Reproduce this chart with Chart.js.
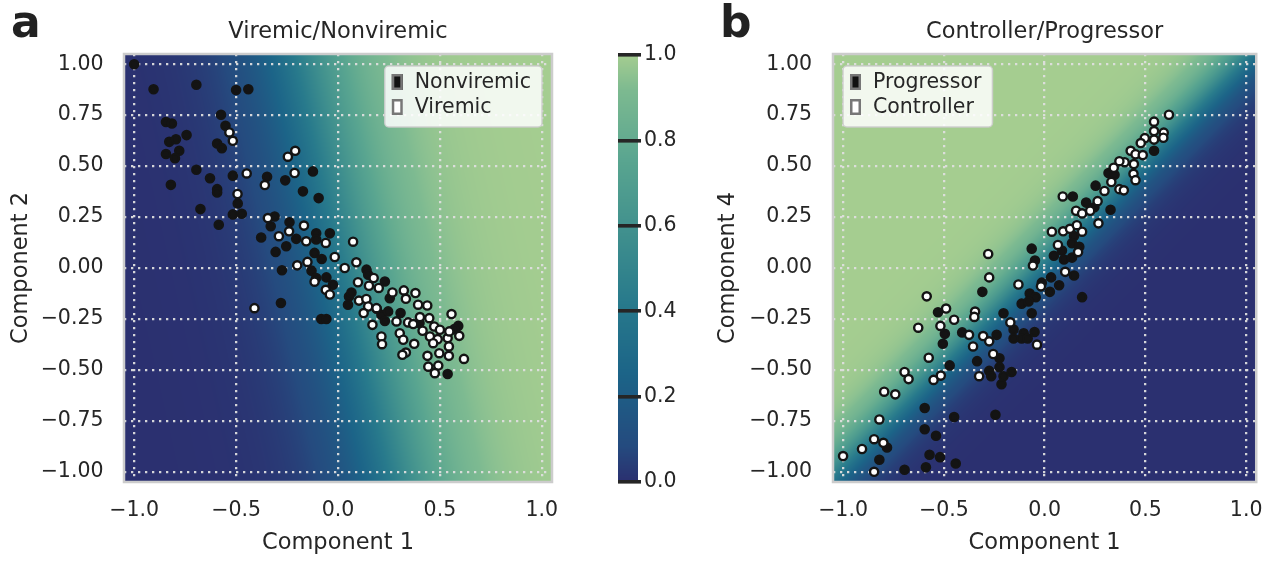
<!DOCTYPE html>
<html><head><meta charset="utf-8">
<script src="https://cdn.jsdelivr.net/npm/chart.js@4.4.1/dist/chart.umd.min.js"></script>
<style>
html,body{margin:0;padding:0;background:#fff;width:1279px;height:562px;overflow:hidden;}
#wrap{position:relative;width:1279px;height:562px;}
canvas{position:absolute;top:0;}
.panel{position:absolute;top:0;font-family:"DejaVu Sans";font-weight:bold;font-size:44px;line-height:44px;color:#222;}
</style></head><body>
<div id="wrap">
<canvas id="c1" width="600" height="562" style="left:0px"></canvas>
<canvas id="cb" width="100" height="562" style="left:600px"></canvas>
<canvas id="c2" width="579" height="562" style="left:700px"></canvas>
<div class="panel" style="left:11px">a</div>
<div class="panel" style="left:720px">b</div>
</div>
<script>
// ---------------- data ----------------
const panelTitles = ["Viremic/Nonviremic", "Controller/Progressor"];
const xTickValues = [-1.0, -0.5, 0.0, 0.5, 1.0];
const yTickValues = [1.0, 0.75, 0.5, 0.25, 0.0, -0.25, -0.5, -0.75, -1.0];
const colorbarTicks = [0.0, 0.2, 0.4, 0.6, 0.8, 1.0];

// panel a: Component 1 vs Component 2
const leftNonviremic = [
[-1.0,1.0],[-0.905,0.877],[-0.695,0.899],[-0.50,0.873],[-0.44,0.877],[-0.574,0.752],[-0.844,0.716],[-0.815,0.709],
[-0.552,0.698],[-0.743,0.652],[-0.828,0.619],[-0.795,0.632],[-0.593,0.611],[-0.57,0.588],[-0.779,0.575],[-0.844,0.559],
[-0.80,0.539],[-0.695,0.482],[-0.628,0.44],[-0.516,0.453],[-0.82,0.408],[-0.593,0.387],[-0.593,0.371],[-0.348,0.448],
[-0.259,0.43],[-0.123,0.474],[-0.172,0.376],[-0.095,0.343],[-0.492,0.317],[-0.675,0.289],[-0.516,0.263],[-0.472,0.266],
[-0.585,0.212],[-0.311,0.253],[-0.377,0.15],[-0.238,0.224],[-0.33,0.205],[-0.254,0.107],[-0.205,0.143],[-0.306,0.079],
[-0.107,0.17],[-0.107,0.14],[-0.04,0.17],[-0.115,0.074],[-0.08,0.044],[-0.275,-0.011],[-0.13,-0.013],[-0.107,-0.049],
[-0.057,-0.046],[-0.025,-0.082],[-0.28,-0.172],[-0.082,-0.25],[-0.057,-0.25],[0.14,-0.008],[0.148,-0.033],[0.23,-0.066],
[0.254,-0.148],[0.054,-0.14],[0.066,-0.12],[0.049,-0.18],[0.213,-0.23],[0.246,-0.213],[0.307,-0.221],[0.59,-0.284],
[0.538,-0.52],[0.19,-0.2],[0.23,-0.26],[0.40,-0.27],[0.57,-0.30]
];
const leftViremic = [
[-0.533,0.665],[-0.516,0.624],[-0.448,0.464],[-0.359,0.407],[-0.246,0.546],[-0.21,0.575],[-0.213,0.466],[-0.493,0.363],
[-0.344,0.245],[-0.167,0.208],[0.074,0.129],[-0.29,0.156],[-0.24,0.18],[-0.156,0.131],[-0.06,0.123],[-0.016,0.054],
[-0.20,0.013],[-0.15,0.03],[-0.115,-0.067],[-0.06,-0.107],[-0.04,-0.13],[0.033,0.0],[0.09,0.028],[-0.41,-0.197],
[0.098,-0.07],[0.175,-0.049],[0.152,-0.087],[0.2,-0.098],[0.267,-0.12],[0.103,-0.16],[0.139,-0.152],[0.148,-0.189],
[0.189,-0.197],[0.126,-0.221],[0.169,-0.279],[0.323,-0.11],[0.333,-0.151],[0.38,-0.123],[0.393,-0.18],[0.438,-0.184],
[0.344,-0.267],[0.369,-0.275],[0.402,-0.241],[0.448,-0.246],[0.287,-0.262],[0.303,-0.32],[0.32,-0.352],[0.333,-0.415],
[0.316,-0.426],[0.213,-0.336],[0.216,-0.374],[0.374,-0.372],[0.415,-0.308],[0.451,-0.336],[0.472,-0.287],[0.5,-0.303],
[0.489,-0.349],[0.538,-0.344],[0.546,-0.311],[0.467,-0.369],[0.497,-0.418],[0.544,-0.385],[0.544,-0.431],[0.557,-0.226],
[0.595,-0.333],[0.618,-0.446],[0.439,-0.431],[0.443,-0.484],[0.492,-0.479],[0.475,-0.516]
];

// panel b: Component 1 vs Component 4
const rightProgressor = [
[0.543,0.575],[0.317,0.466],[0.347,0.457],[0.253,0.404],[0.206,0.321],[0.247,0.298],[0.327,0.286],[0.14,0.351],
[0.146,0.157],[0.136,0.122],[0.172,0.104],[0.086,0.086],[0.046,0.06],[0.096,0.042],[0.136,0.051],[-0.064,0.095],
[-0.048,0.037],[0.146,-0.037],[0.032,-0.046],[0.072,-0.085],[0.026,-0.117],[-0.014,-0.072],[-0.074,-0.125],[-0.044,-0.143],
[-0.114,-0.175],[-0.08,-0.164],[0.186,-0.143],[-0.309,-0.117],[-0.529,-0.217],[-0.204,-0.222],[-0.064,-0.222],[-0.495,-0.323],
[-0.505,-0.372],[-0.409,-0.316],[-0.238,-0.328],[-0.154,-0.302],[-0.104,-0.32],[-0.114,-0.346],[-0.154,-0.346],[-0.084,-0.346],
[-0.05,-0.314],[-0.335,-0.457],[-0.224,-0.443],[-0.471,-0.478],[-0.275,-0.505],[-0.265,-0.531],[-0.224,-0.487],[-0.204,-0.531],
[-0.164,-0.51],[-0.214,-0.57],[-0.595,-0.687],[-0.449,-0.731],[-0.244,-0.72],[-0.595,-0.791],[-0.539,-0.823],[-0.782,-0.881],
[-0.82,-0.941],[-0.571,-0.916],[-0.519,-0.928],[-0.441,-0.959],[-0.695,-0.99],[-0.589,-0.978]
];
const rightController = [
[0.617,0.752],[0.543,0.718],[0.591,0.664],[0.543,0.672],[0.589,0.639],[0.497,0.637],[0.543,0.63],[0.477,0.613],
[0.427,0.575],[0.451,0.558],[0.487,0.554],[0.443,0.51],[0.397,0.519],[0.371,0.524],[0.343,0.492],[0.441,0.462],
[0.371,0.387],[0.393,0.381],[0.451,0.431],[0.331,0.422],[0.297,0.378],[0.263,0.328],[0.09,0.351],[0.156,0.281],
[0.186,0.268],[0.226,0.281],[0.267,0.219],[0.036,0.178],[0.092,0.18],[0.126,0.192],[0.186,0.178],[0.16,0.21],
[0.066,0.113],[0.166,0.078],[-0.058,0.012],[0.102,-0.019],[-0.018,-0.09],[-0.13,-0.081],[-0.28,0.069],[-0.275,-0.046],
[-0.585,-0.139],[-0.489,-0.199],[-0.449,-0.254],[-0.345,-0.214],[-0.349,-0.24],[-0.17,-0.267],[-0.627,-0.293],[-0.517,-0.284],
[-0.375,-0.328],[-0.305,-0.334],[-0.275,-0.36],[-0.355,-0.385],[-0.038,-0.376],[-0.575,-0.44],[-0.255,-0.422],[-0.695,-0.51],
[-0.675,-0.545],[-0.551,-0.549],[-0.515,-0.528],[-0.325,-0.531],[-0.796,-0.607],[-0.741,-0.62],[-0.82,-0.743],[-0.846,-0.84],
[-0.8,-0.858],[-0.906,-0.888],[-1.0,-0.923],[-0.846,-1.0]
];

// decision-surface coefficients read from the shading: p = logistic(a*x + b*y + c)
const leftSurfaceCoef = [6.0, 1.35, -0.45];
const rightSurfaceCoef = [-11.0, 11.0, -0.55];

// ---------------- styling helpers ----------------
const FONT = '"DejaVu Sans", "Liberation Sans", sans-serif';
const TXT = '#262626';
const crestStops = [
  [0.000,[43,48,112]],[0.083,[37,75,127]],[0.250,[28,100,136]],[0.417,[40,122,140]],
  [0.583,[64,144,142]],[0.750,[89,165,144]],[0.917,[125,186,145]],[1.000,[165,205,144]]
];
function crest(t){
  t = Math.max(0, Math.min(1, t));
  for (let i = 1; i < crestStops.length; i++) {
    const [t1, c1] = crestStops[i];
    if (t <= t1) {
      const [t0, c0] = crestStops[i-1];
      const f = (t - t0) / (t1 - t0);
      return [c0[0]+(c1[0]-c0[0])*f, c0[1]+(c1[1]-c0[1])*f, c0[2]+(c1[2]-c0[2])*f];
    }
  }
  return crestStops[crestStops.length-1][1];
}
const toPts = arr => arr.map(([x, y]) => ({x, y}));
const fmtSigned = d => v => { const r = Math.round(v*1000)/1000; return (r < 0 ? '\u2212' : '') + Math.abs(r).toFixed(d); };

const surfacePlugin = {
  id: 'surface',
  beforeDraw(chart, args, opts) {
    if (!opts || !opts.coef) return;
    const {ctx, chartArea} = chart;
    const xs = chart.scales.x, ys = chart.scales.y;
    const left = Math.round(chartArea.left), top = Math.round(chartArea.top);
    const w = Math.round(chartArea.right) - left, h = Math.round(chartArea.bottom) - top;
    const off = document.createElement('canvas'); off.width = w; off.height = h;
    const octx = off.getContext('2d'); const img = octx.createImageData(w, h);
    const [a, b, c] = opts.coef;
    for (let j = 0; j < h; j++) {
      const yv = ys.getValueForPixel(top + j + 0.5);
      for (let i = 0; i < w; i++) {
        const xv = xs.getValueForPixel(left + i + 0.5);
        const p = 1 / (1 + Math.exp(-(a*xv + b*yv + c)));
        const col = crest(p); const k = (j*w + i)*4;
        img.data[k] = col[0]; img.data[k+1] = col[1]; img.data[k+2] = col[2]; img.data[k+3] = 255;
      }
    }
    octx.putImageData(img, 0, 0);
    ctx.drawImage(off, left, top);
  },
  beforeDatasetsDraw(chart, args, opts) {
    if (!opts || !opts.coef) return;
    const {ctx, chartArea: ca} = chart;
    ctx.save(); ctx.strokeStyle = '#cccccc'; ctx.lineWidth = 2.5;
    ctx.strokeRect(ca.left, ca.top, ca.right - ca.left, ca.bottom - ca.top);
    ctx.restore();
  }
};

const boxLegendPlugin = {
  id: 'boxLegend',
  afterDraw(chart, args, opts) {
    if (!opts || !opts.items) return;
    const {ctx, chartArea: ca} = chart;
    ctx.save();
    ctx.font = '20.5px ' + FONT;
    const tw = Math.max(...opts.items.map(it => ctx.measureText(it.label).width));
    const bw = 30 + tw + 11, bh = 61;
    const x0 = opts.side === 'right' ? ca.right - 10 - bw : ca.left + 10;
    const y0 = ca.top + 12;
    ctx.beginPath(); ctx.roundRect(x0, y0, bw, bh, 4);
    ctx.fillStyle = 'rgba(255,255,255,0.85)'; ctx.fill();
    ctx.strokeStyle = 'rgba(204,204,204,0.9)'; ctx.lineWidth = 1.5; ctx.stroke();
    opts.items.forEach((it, i) => {
      const cy = y0 + 16 + i*25;
      ctx.fillStyle = it.fill; ctx.fillRect(x0 + 7, cy - 8, 11, 16);
      ctx.strokeStyle = '#777777'; ctx.lineWidth = 2.5; ctx.strokeRect(x0 + 8.25, cy - 6.75, 8.5, 13.5);
      ctx.fillStyle = TXT; ctx.textAlign = 'left'; ctx.textBaseline = 'middle';
      ctx.fillText(it.label, x0 + 30, cy + 1);
    });
    ctx.restore();
  }
};

const colorbarPlugin = {
  id: 'colorbarFill',
  beforeDraw(chart) {
    const {ctx, chartArea: ca} = chart; const ys = chart.scales.y;
    ctx.save();
    for (let r = Math.floor(ca.top); r < Math.ceil(ca.bottom); r++) {
      const c = crest(ys.getValueForPixel(r + 0.5));
      ctx.fillStyle = `rgb(${c[0]|0},${c[1]|0},${c[2]|0})`;
      ctx.fillRect(ca.left, r, ca.right - ca.left, 1);
    }
    ctx.restore();
  }
};

function panelConfig(opt) {
  return {
    type: 'scatter',
    data: { datasets: [
      { label: opt.labels[0], data: toPts(opt.dark), order: 1,
        pointRadius: 4.1, pointBorderWidth: 2.4, pointBackgroundColor: '#141414', pointBorderColor: '#141414', pointHoverRadius: 4.1 },
      { label: opt.labels[1], data: toPts(opt.light), order: 0,
        pointRadius: 4.1, pointBorderWidth: 2.4, pointBackgroundColor: '#ffffff', pointBorderColor: '#141414', pointHoverRadius: 4.1 }
    ]},
    plugins: [surfacePlugin, boxLegendPlugin],
    options: {
      responsive: false, animation: false, devicePixelRatio: 1,
      layout: { padding: { left: 0, right: opt.padRight, top: 0, bottom: 0 } },
      plugins: {
        legend: { display: false }, tooltip: { enabled: false },
        title: { display: true, text: opt.title, fullSize: false, color: TXT,
          font: { family: FONT, size: 22.5, weight: 'normal', lineHeight: 1.2 }, padding: { top: 19, bottom: 8 } },
        surface: { coef: opt.coef },
        boxLegend: { side: opt.legendSide, items: [
          { label: opt.labels[0], fill: '#111111' }, { label: opt.labels[1], fill: '#ffffff' } ] }
      },
      scales: {
        x: { type: 'linear', min: -1.05, max: 1.05,
          afterBuildTicks: s => { s.ticks = xTickValues.map(v => ({value: v})); },
          afterFit: s => { s.height = 80; },
          ticks: { color: TXT, font: { family: FONT, size: 20.5 }, padding: 16, autoSkip: false, callback: fmtSigned(1) },
          grid: { color: 'rgba(222,222,222,0.95)', lineWidth: 2.3, drawTicks: false },
          border: { display: false, dash: [2.3, 4.7] },
          title: { display: true, text: 'Component 1', color: TXT, font: { family: FONT, size: 22.5, lineHeight: 1.2 }, padding: { top: 0, bottom: 5.5 } } },
        y: { type: 'linear', min: -1.05, max: 1.05,
          afterBuildTicks: s => { s.ticks = yTickValues.map(v => ({value: v})); },
          afterFit: s => { s.width = opt.yWidth; },
          ticks: { color: TXT, font: { family: FONT, size: 20.5 }, padding: opt.yPad, autoSkip: false, callback: fmtSigned(2) },
          grid: { color: 'rgba(222,222,222,0.95)', lineWidth: 2.3, drawTicks: false },
          border: { display: false, dash: [2.3, 4.7] },
          title: { display: true, text: opt.yTitle, color: TXT, font: { family: FONT, size: 22.5, lineHeight: 1.2 }, padding: { top: opt.yTitlePad, bottom: 0 } } }
      }
    }
  };
}

new Chart(document.getElementById('c1'), panelConfig({
  title: panelTitles[0], labels: ['Nonviremic', 'Viremic'], dark: leftNonviremic, light: leftViremic,
  coef: leftSurfaceCoef, legendSide: 'right', padRight: 48, yWidth: 124, yPad: 20.5, yTitle: 'Component 2', yTitlePad: 8
}));

new Chart(document.getElementById('c2'), panelConfig({
  title: panelTitles[1], labels: ['Progressor', 'Controller'], dark: rightProgressor, light: rightController,
  coef: rightSurfaceCoef, legendSide: 'left', padRight: 18, yWidth: 133, yPad: 21, yTitle: 'Component 4', yTitlePad: 14.5
}));

new Chart(document.getElementById('cb'), {
  type: 'scatter',
  data: { datasets: [] },
  plugins: [colorbarPlugin],
  options: {
    responsive: false, animation: false, devicePixelRatio: 1,
    layout: { padding: { left: 18, right: 0, top: 55, bottom: 80 } },
    plugins: { legend: { display: false }, tooltip: { enabled: false } },
    scales: {
      x: { display: false, min: 0, max: 1 },
      y: { position: 'right', min: 0, max: 1,
        afterBuildTicks: s => { s.ticks = colorbarTicks.map(v => ({value: v})); },
        afterFit: s => { s.width = 62; },
        ticks: { color: TXT, font: { family: FONT, size: 20.5 }, padding: 3, autoSkip: false, callback: v => (Math.round(v*10)/10).toFixed(1) },
        grid: { color: '#262626', lineWidth: 3.6, drawTicks: true, tickLength: 3, drawOnChartArea: true },
        border: { display: false } }
    }
  }
});
</script>
</body></html>
